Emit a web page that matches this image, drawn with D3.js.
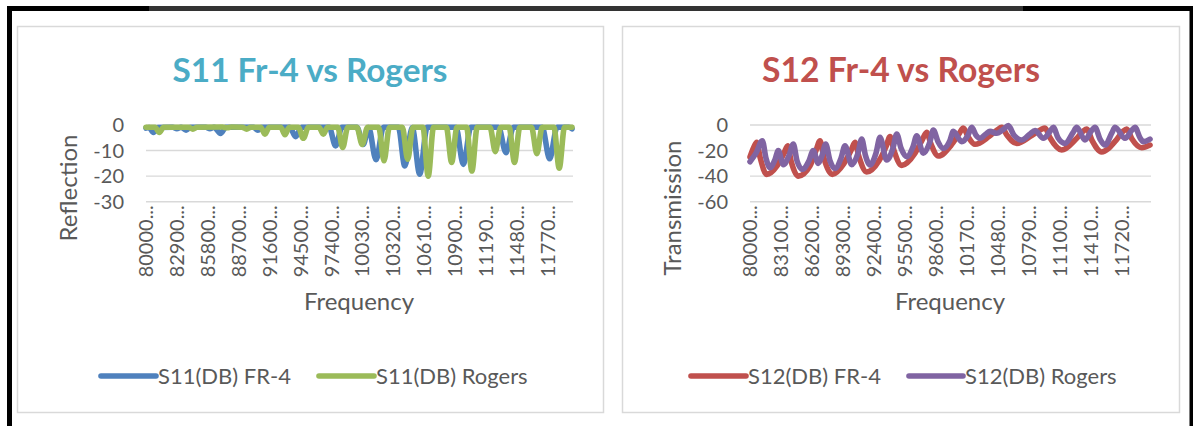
<!DOCTYPE html>
<html>
<head>
<meta charset="utf-8">
<script src="https://cdn.jsdelivr.net/npm/d3@7"></script>
<style>
  html, body { margin: 0; padding: 0; background: #ffffff; }
  svg { display: block; }
  text { font-family: Lato, "Noto Sans", sans-serif; fill: #595959; }
</style>
</head>
<body>
<svg id="chart" width="1194" height="426"></svg>
<script>
// ---- Data: S-parameter sweeps, frequency in GHz, magnitude in dB ----
const freqStartGHz = 8.0;
const freqStopGHz = 12.0;

// S11 (reflection) points [GHz, dB]
const s11Fr4 = [
  [8.00,-1.2],[8.03,-1.0],[8.07,-2.9],[8.11,-1.0],
  [8.25,-0.9],[8.29,-1.4],[8.33,-0.9],[8.376,-2.0],[8.42,-0.9],
  [8.56,-0.9],[8.60,-1.4],[8.64,-0.9],[8.70,-3.3],[8.75,-0.9],
  [9.01,-0.9],[9.05,-2.0],[9.09,-0.9],
  [9.35,-0.9],[9.405,-4.6],[9.46,-0.9],
  [9.72,-0.9],[9.78,-8.2],[9.84,-0.9],
  [9.98,-0.9],[10.04,-7.6],[10.09,-1.0],[10.16,-13.6],[10.23,-0.9],
  [10.37,-0.9],[10.43,-16.0],[10.50,-1.0],[10.57,-19.2],[10.64,-0.9],
  [10.91,-0.9],[10.98,-15.4],[11.05,-0.9],
  [11.31,-0.9],[11.38,-10.8],[11.45,-0.9],
  [11.72,-0.9],[11.79,-13.2],[11.86,-0.9],
  [11.97,-0.9],[12.00,-1.5]
];
const s11Rogers = [
  [8.00,-0.9],[8.085,-0.9],[8.125,-2.9],[8.165,-0.9],
  [8.40,-0.9],[8.44,-1.6],[8.48,-0.9],
  [8.72,-0.8],[8.76,-1.1],[8.80,-0.8],
  [8.905,-0.9],[8.945,-1.6],[8.985,-0.9],
  [9.077,-0.9],[9.117,-3.6],[9.157,-0.9],
  [9.265,-0.9],[9.305,-3.8],[9.345,-0.9],
  [9.43,-0.9],[9.477,-5.2],[9.525,-0.9],
  [9.625,-0.9],[9.665,-3.6],[9.705,-0.9],
  [9.80,-0.9],[9.847,-8.8],[9.895,-0.9],
  [9.98,-0.9],[10.03,-7.6],[10.08,-0.9],
  [10.185,-0.9],[10.235,-14.0],[10.285,-0.9],
  [10.407,-0.9],[10.457,-13.4],[10.507,-0.9],
  [10.60,-0.9],[10.65,-20.0],[10.70,-0.9],
  [10.82,-0.9],[10.87,-14.6],[10.92,-0.9],
  [11.01,-0.9],[11.06,-18.0],[11.11,-0.9],
  [11.23,-0.9],[11.28,-10.4],[11.33,-0.9],
  [11.41,-0.9],[11.46,-14.6],[11.51,-0.9],
  [11.62,-0.9],[11.67,-11.2],[11.72,-0.9],
  [11.83,-0.9],[11.88,-16.9],[11.93,-0.9],
  [12.00,-0.9]
];

// S12 (transmission) points [GHz, dB]
const s12Fr4 = [
  [8.00,-25],[8.04,-17],[8.067,-13.6],[8.10,-25],[8.167,-38.6],[8.27,-32],[8.34,-22],[8.377,-16.2],
  [8.41,-28],[8.483,-40],[8.60,-32],[8.66,-20],[8.70,-12.3],[8.74,-26],[8.823,-38.6],[8.94,-30],
  [9.01,-20],[9.05,-13.6],[9.09,-25],[9.167,-36.8],[9.29,-28],[9.36,-17],[9.40,-9.1],[9.44,-20],
  [9.517,-31.6],[9.65,-22],[9.72,-12],[9.767,-5.7],[9.81,-15],[9.883,-24.3],[10.01,-16],[10.09,-7],
  [10.133,-2.3],[10.18,-9],[10.25,-15.1],[10.39,-9],[10.47,-4],[10.517,-1.8],[10.57,-8],[10.667,-14.4],
  [10.82,-8],[10.91,-3.5],[10.95,-2.3],[11.00,-10],[11.117,-19.6],[11.26,-11],[11.33,-5],[11.367,-3.1],
  [11.42,-12],[11.517,-21.1],[11.66,-12],[11.73,-5],[11.767,-3.1],[11.82,-11],[11.917,-17.8],[12.00,-15.7]
];
const s12Rogers = [
  [8.00,-28.7],[8.06,-22],[8.123,-12.3],[8.16,-26],[8.20,-33.4],[8.25,-27],[8.283,-20],[8.333,-31],
  [8.39,-24],[8.433,-14.9],[8.47,-28],[8.523,-34.7],[8.59,-28],[8.633,-20],[8.683,-30],[8.72,-24],
  [8.757,-14.9],[8.80,-28],[8.85,-34],[8.91,-26],[8.95,-16.2],[9.017,-31],[9.08,-22],[9.117,-11],
  [9.155,-24],[9.20,-31.3],[9.26,-22],[9.30,-9.7],[9.367,-27.4],[9.43,-18],[9.467,-7],[9.51,-18],
  [9.567,-24.8],[9.63,-17],[9.667,-8.4],[9.733,-22],[9.80,-13],[9.833,-3.9],[9.88,-13],[9.933,-18.3],
  [10.00,-12],[10.033,-5],[10.117,-13],[10.18,-8],[10.217,-1.8],[10.26,-8],[10.30,-10.4],[10.36,-7],
  [10.40,-5],[10.467,-6.5],[10.54,-3],[10.583,-0.5],[10.64,-8],[10.717,-11.7],[10.80,-7],[10.85,-4.4],
  [10.933,-10.4],[11.00,-5],[11.033,-1.8],[11.08,-10],[11.15,-14.4],[11.23,-6],[11.267,-1.8],[11.35,-11.7],
  [11.41,-5],[11.45,-1.8],[11.50,-11],[11.55,-15.7],[11.62,-6],[11.65,-1.8],[11.75,-10.4],[11.82,-4],
  [11.85,-1.8],[11.90,-10],[11.933,-13],[12.00,-11]
];

// Category labels along each frequency axis (Hz, shown truncated)
const s11TickHz = [8000000000, 8290000000, 8580000000, 8870000000, 9160000000, 9450000000, 9740000000,
  10030000000, 10320000000, 10610000000, 10900000000, 11190000000, 11480000000, 11770000000];
const s12TickHz = [8000000000, 8310000000, 8620000000, 8930000000, 9240000000, 9550000000, 9860000000,
  10170000000, 10480000000, 10790000000, 11100000000, 11410000000, 11720000000];

const s11YTicks = [0, -10, -20, -30];
const s12YTicks = [0, -20, -40, -60];

// ---- Drawing ----
const svg = d3.select("#chart");

// outer frame
const frame = svg.append("g");
frame.append("rect").attr("x", 7).attr("y", 6).attr("width", 142).attr("height", 5).attr("fill", "#000");
frame.append("rect").attr("x", 149).attr("y", 6).attr("width", 874).attr("height", 5).attr("fill", "#333");
frame.append("rect").attr("x", 1023).attr("y", 6).attr("width", 170).attr("height", 5).attr("fill", "#000");
frame.append("rect").attr("x", 7).attr("y", 6).attr("width", 5).attr("height", 420).attr("fill", "#000");
frame.append("rect").attr("x", 1189.5).attr("y", 6).attr("width", 3.5).attr("height", 420).attr("fill", "#000");

function lineChart(cfg) {
  const g = svg.append("g");
  g.append("rect")
    .attr("x", cfg.box[0]).attr("y", cfg.box[1])
    .attr("width", cfg.box[2]).attr("height", cfg.box[3])
    .attr("fill", "#fff").attr("stroke", "#d9d9d9").attr("stroke-width", 1.5);

  const x = d3.scaleLinear().domain([freqStartGHz, freqStopGHz]).range([cfg.plot[0], cfg.plot[1]]);
  const y = d3.scaleLinear().domain([cfg.yTicks[cfg.yTicks.length - 1], 0]).range([cfg.plot[3], cfg.plot[2]]);

  // gridlines
  g.append("g").selectAll("line").data(cfg.yTicks).join("line")
    .attr("x1", cfg.plot[0]).attr("x2", cfg.plot[1] + 1)
    .attr("y1", d => y(d)).attr("y2", d => y(d))
    .attr("stroke", "#d9d9d9").attr("stroke-width", 1.4);

  // y tick labels
  g.append("g").selectAll("text").data(cfg.yTicks).join("text")
    .attr("x", cfg.yLabelX).attr("y", d => y(d)).attr("dy", "0.36em")
    .attr("text-anchor", "end").style("font-size", "20px")
    .text(d => d);

  // x category labels (rotated)
  g.append("g").selectAll("text").data(cfg.xTicks).join("text")
    .attr("transform", d => `translate(${x(d / 1e9)},${y(cfg.yTicks[cfg.yTicks.length - 1]) + 3.5}) rotate(-90)`)
    .attr("dy", "0.36em").attr("text-anchor", "end").style("font-size", "20px")
    .text(d => String(d).slice(0, 5) + "...");

  // series
  const line = d3.line().x(d => x(d[0])).y(d => y(d[1])).curve(d3.curveMonotoneX);
  cfg.series.forEach(s => {
    g.append("path").datum(s.data)
      .attr("d", line).attr("fill", "none")
      .attr("stroke", s.color).attr("stroke-width", 5.6)
      .attr("stroke-linejoin", "round").attr("stroke-linecap", "round");
  });

  // title
  const title = g.append("text")
    .attr("x", cfg.titleX).attr("y", 82).attr("text-anchor", "middle")
    .style("font-size", "32px").style("font-weight", "700").style("fill", cfg.titleColor)
    .text(cfg.title);
  const tw = title.node().getComputedTextLength();
  title.style("font-size", (32 * cfg.titleWidth / tw).toFixed(2) + "px");

  // axis titles
  g.append("text")
    .attr("transform", `translate(${cfg.yTitle[0]},${cfg.yTitle[1]}) rotate(-90)`)
    .attr("text-anchor", "middle").style("font-size", "24px")
    .text(cfg.yTitleText);
  g.append("text")
    .attr("x", (cfg.plot[0] + cfg.plot[1]) / 2).attr("y", 310)
    .attr("text-anchor", "middle").style("font-size", "24px")
    .text("Frequency");

  // legend
  cfg.series.forEach(s => {
    g.append("line")
      .attr("x1", s.legend[0]).attr("x2", s.legend[1])
      .attr("y1", 376).attr("y2", 376)
      .attr("stroke", s.color).attr("stroke-width", 5.6).attr("stroke-linecap", "round");
    g.append("text")
      .attr("x", s.legend[1] + 2).attr("y", 376).attr("dy", "0.36em")
      .style("font-size", "22px")
      .text(s.name);
  });
}

lineChart({
  box: [17.5, 26.5, 586, 386],
  plot: [146, 572, 125, 201.7],
  yTicks: s11YTicks,
  xTicks: s11TickHz,
  yLabelX: 124,
  title: "S11 Fr-4 vs Rogers",
  titleColor: "#4BACC6",
  titleX: 310,
  titleWidth: 275,
  yTitle: [77, 188],
  yTitleText: "Reflection",
  series: [
    { name: "S11(DB) FR-4", color: "#4F81BD", data: s11Fr4, legend: [101, 156] },
    { name: "S11(DB) Rogers", color: "#9BBB59", data: s11Rogers, legend: [319, 374] }
  ]
});

lineChart({
  box: [622.5, 26.5, 557, 386],
  plot: [750, 1150, 125, 201.7],
  yTicks: s12YTicks,
  xTicks: s12TickHz,
  yLabelX: 728,
  title: "S12 Fr-4 vs Rogers",
  titleColor: "#C0504D",
  titleX: 901,
  titleWidth: 278,
  yTitle: [681, 208],
  yTitleText: "Transmission",
  series: [
    { name: "S12(DB) FR-4", color: "#C0504D", data: s12Fr4, legend: [691, 746] },
    { name: "S12(DB) Rogers", color: "#8064A2", data: s12Rogers, legend: [909, 963] }
  ]
});
</script>
</body>
</html>
